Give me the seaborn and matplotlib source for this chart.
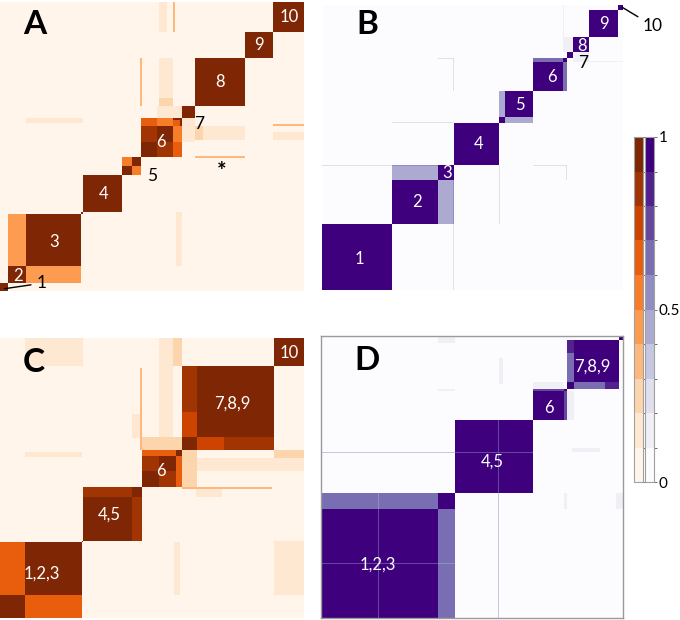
import numpy as np
import matplotlib
matplotlib.use("Agg")
import matplotlib.pyplot as plt
from matplotlib.colors import ListedColormap
import seaborn as sns

plt.rcParams['font.family'] = ['Lato', 'DejaVu Sans']

N = 300  # samples per matrix

# Each matrix: cluster boundaries on the diagonal (co-clustering = 1),
# off-diagonal blocks (row0, row1, col0, col1, value) and inner structure
# blocks applied after the diagonal. All blocks are mirrored.

# ---- A ----
a_bounds = [0, 8, 26, 80, 82, 120, 139, 180, 192, 242, 269, 300]
a_off = [(8, 26, 26, 80, 0.4),
         (269, 300, 157, 165, 0.15),
         (269, 300, 171, 173, 0.3),
         (180, 242, 157, 171, 0.12),
         (180, 200, 157, 171, 0.2),
         (192, 242, 138, 140, 0.35),
         (174, 180, 26, 82, 0.15),
         (155, 180, 180, 192, 0.15)]
a_inner = [(120, 130, 130, 139, 0.55),
           (139, 155, 155, 171, 0.85),
           (139, 155, 171, 180, 0.65),
           (155, 171, 171, 180, 0.55),
           (171, 178, 171, 178, 0.65)]
a_white = [("2", 18, 16), ("3", 53, 51), ("4", 102, 101), ("6", 159, 155),
           ("8", 217, 217), ("9", 256, 255), ("10", 285, 284)]
a_black = [("5", 150, 119), ("7", 197, 173)]

# ---- B ----
b_bounds = [0, 70, 116, 132, 176, 182, 210, 240, 244, 250, 266, 295, 300]
b_off = [(70, 116, 116, 132, 0.4),
         (176, 182, 182, 210, 0.4),
         (210, 240, 240, 244, 0.65),
         (131, 132, 0, 70, 0.25),
         (131, 132, 70, 116, 0.55),
         (131, 132, 210, 244, 0.25),
         (243, 244, 116, 131, 0.25),
         (176, 177, 70, 132, 0.25),
         (240, 241, 266, 300, 0.12),
         (240, 250, 250, 266, 0.1)]
b_inner = []
b_white = [("1", 37, 33), ("2", 95, 93), ("3", 125, 123), ("4", 156, 154),
           ("5", 197, 195), ("6", 229, 224), ("8", 259, 257), ("9", 281, 280)]
b_black = [("7", 260, 239)]

# ---- C ----
c_bounds = [0, 25, 81, 82, 130, 140, 157, 174, 180, 194, 221, 270, 300]
c_off = [(270, 300, 25, 82, 0.15),
         (180, 300, 157, 171, 0.1),
         (270, 300, 171, 180, 0.25),
         (180, 194, 157, 171, 0.2),
         (180, 268, 138, 140, 0.35),
         (193, 219, 130, 138, 0.15),
         (172, 178, 25, 81, 0.15),
         (140, 180, 180, 194, 0.2)]
c_inner = [(0, 25, 25, 81, 0.65),
           (82, 130, 130, 140, 0.85),
           (140, 157, 157, 174, 0.85),
           (140, 174, 174, 180, 0.65),
           (180, 194, 194, 221, 0.75),
           (180, 194, 221, 270, 0.85),
           (194, 221, 221, 270, 1.0)]
c_white = [("1,2,3", 41, 48), ("4,5", 108, 111), ("6", 159, 158),
           ("7,8,9", 229, 230), ("10", 285, 284)]

# ---- D ----
d_bounds = [0, 116, 133, 211, 241, 244, 251, 282, 296, 300]
d_off = [(293, 300, 116, 133, 0.12),
         (241, 244, 116, 133, 0.1),
         (249, 277, 177, 181, 0.1),
         (244, 251, 211, 241, 0.15)]
d_inner = [(0, 116, 116, 133, 0.65),
           (211, 241, 241, 244, 0.75),
           (244, 251, 251, 282, 0.65),
           (244, 251, 282, 296, 0.85),
           (251, 282, 282, 296, 1.0),
           (57, 58, 0, 116, 0.7),
           (57, 58, 116, 133, 0.5),
           (176, 177, 0, 133, 0.3),
           (176, 177, 133, 211, 0.7)]
d_white = [("1,2,3", 56, 57), ("4,5", 170, 166), ("6", 226, 223),
           ("7,8,9", 270, 267)]


def build(bounds, off, inner):
    m = np.zeros((N, N))
    for r0, r1, c0, c1, v in off:
        m[r0:r1, c0:c1] = v
        m[c0:c1, r0:r1] = v
    for a, b in zip(bounds[:-1], bounds[1:]):
        m[a:b, a:b] = 1.0
    for r0, r1, c0, c1, v in inner:
        m[r0:r1, c0:c1] = v
        m[c0:c1, r0:r1] = v
    return m


oranges = ListedColormap(plt.get_cmap("Oranges")(np.linspace(0, 1, 10)))
purples = ListedColormap(plt.get_cmap("Purples")(np.linspace(0, 1, 10)))

fig = plt.figure(figsize=(6.8, 6.2), dpi=100)
W, H = 680, 620


def box(x0, y0, x1, y1):
    return [x0 / W, 1 - y1 / H, (x1 - x0) / W, (y1 - y0) / H]


axA = fig.add_axes(box(0, 2, 304, 291))
axB = fig.add_axes(box(322, 5, 623, 290))
axC = fig.add_axes(box(0, 338, 304, 618))
axD = fig.add_axes(box(321, 336, 623, 618))
caxO = fig.add_axes(box(634, 137, 643, 482))
caxP = fig.add_axes(box(645, 137, 654, 482))

panels = [(axA, a_bounds, a_off, a_inner, oranges, caxO),
          (axB, b_bounds, b_off, b_inner, purples, caxP),
          (axC, c_bounds, c_off, c_inner, oranges, None),
          (axD, d_bounds, d_off, d_inner, purples, None)]

for ax, bounds, off, inner, cmap, cax in panels:
    m = build(bounds, off, inner)
    sns.heatmap(m, ax=ax, cmap=cmap, vmin=0, vmax=1,
                cbar=cax is not None, cbar_ax=cax,
                xticklabels=False, yticklabels=False, rasterized=True)
    ax.invert_yaxis()

for ax, labels in [(axA, a_white), (axB, b_white), (axC, c_white), (axD, d_white)]:
    for t, x, y in labels:
        ax.text(x, y, t, color="white", fontsize=12, ha="center", va="center")

for ax, labels in [(axA, a_black), (axB, b_black)]:
    for t, x, y in labels:
        ax.text(x, y, t, color="black", fontsize=12.5, ha="center", va="center")

axA.text(219, 124, "*", color="black", fontsize=16, fontweight="bold",
         ha="center", va="center")
axA.annotate("1", xy=(2, 2), xytext=(36, 8), color="black", fontsize=12.5,
             ha="left", va="center",
             arrowprops=dict(arrowstyle="-", color="black", lw=1))
axB.annotate("10", xy=(297, 299), xytext=(320, 278), color="black",
             fontsize=12.5, ha="left", va="center", annotation_clip=False,
             arrowprops=dict(arrowstyle="-", color="black", lw=1))

# D has a thin grey frame
for s in axD.spines.values():
    s.set_visible(True)
    s.set_color("#9a9a9a")
    s.set_linewidth(1)

for t, x, y in [("A", 35, 25), ("B", 367, 25), ("C", 34, 362), ("D", 367, 361)]:
    fig.text(x / W, 1 - y / H, t, fontsize=24, fontweight="bold",
             ha="center", va="center")

# colour bars
ticks = np.linspace(0, 1, 11)
for ax, labelled in [(axA, False), (axB, True)]:
    cb = ax.collections[0].colorbar
    cb.set_ticks(ticks)
    if labelled:
        cb.set_ticklabels(["0", "", "", "", "", "0.5", "", "", "", "", "1"])
    else:
        cb.set_ticklabels([""] * 11)
    cb.outline.set_edgecolor("#a0a0a0")
    cb.outline.set_linewidth(0.8)
    cb.ax.tick_params(length=2, width=0.6, color="#555555", labelsize=11,
                      pad=1.5)

fig.savefig("out.png", dpi=100)
